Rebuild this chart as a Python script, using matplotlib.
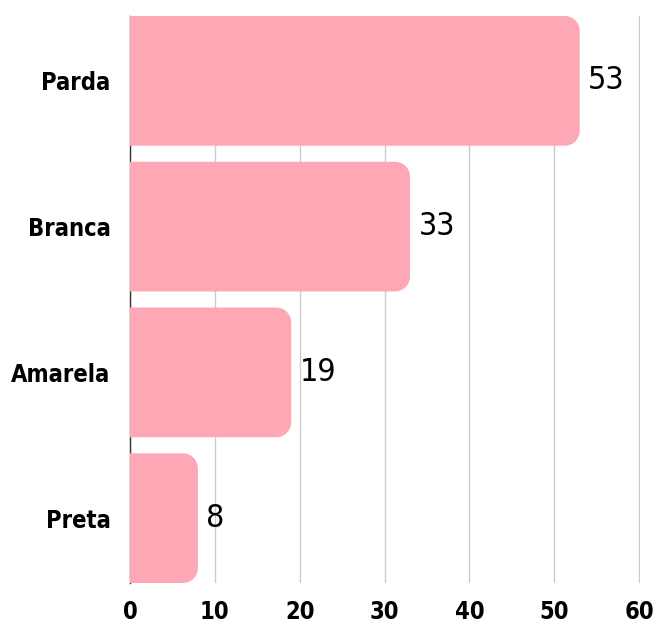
import matplotlib
matplotlib.use('Agg')
import matplotlib.pyplot as plt
from matplotlib.path import Path
from matplotlib.patches import PathPatch

categories = ['Parda', 'Branca', 'Amarela', 'Preta']
values = [53, 33, 19, 8]
xticks = [0, 10, 20, 30, 40, 50, 60]

plt.rcParams['font.family'] = ['DejaVu Sans']
plt.rcParams['font.stretch'] = 'condensed'

bar_color = '#FFA8B5'
bar_h = 0.89

def rounded_bar(y, width, h, rx, ry):
    # rectangle from x=0 with only the right-hand corners rounded
    k = 0.5523
    y0, y1 = y - h / 2, y + h / 2
    verts = [
        (0, y0), (width - rx, y0),
        (width - rx + k * rx, y0), (width, y0 + ry - k * ry), (width, y0 + ry),
        (width, y1 - ry),
        (width, y1 - ry + k * ry), (width - rx + k * rx, y1), (width - rx, y1),
        (0, y1), (0, y0),
    ]
    codes = [Path.MOVETO, Path.LINETO,
             Path.CURVE4, Path.CURVE4, Path.CURVE4,
             Path.LINETO,
             Path.CURVE4, Path.CURVE4, Path.CURVE4,
             Path.LINETO, Path.CLOSEPOLY]
    return PathPatch(Path(verts, codes), facecolor=bar_color, edgecolor='none', zorder=3)

fig = plt.figure(figsize=(6.56, 6.24), dpi=100)
ax = fig.add_axes([130 / 656, 1 - 583 / 624, 510 / 656, 567 / 624])

ax.set_xlim(0, 60.1)
ax.set_ylim(len(categories) - 1 + bar_h / 2, -bar_h / 2)

# radius ~15 px converted to data units
rx = 15 / 8.5
ry = 15 / 146
for i, v in enumerate(values):
    ax.add_patch(rounded_bar(i, v, bar_h, rx, ry))
    ax.text(v + 1.0, i, str(v), va='center', ha='left', fontsize=23, color='black')

ax.set_xticks(xticks)
ax.set_xticklabels([str(t) for t in xticks], fontsize=17, fontweight='bold')
ax.set_yticks(range(len(categories)))
ax.set_yticklabels(categories, fontsize=17, fontweight='bold')
ax.tick_params(axis='both', length=0)
ax.tick_params(axis='x', pad=12)
ax.tick_params(axis='y', pad=14)

ax.grid(axis='x', color='#cccccc', linewidth=1, zorder=0)
ax.set_axisbelow(True)
for s in ['top', 'right', 'bottom']:
    ax.spines[s].set_visible(False)
ax.spines['left'].set_color('#333333')
ax.spines['left'].set_linewidth(1)
ax.spines['left'].set_zorder(1)

fig.savefig('out.png', dpi=100, facecolor='white')
